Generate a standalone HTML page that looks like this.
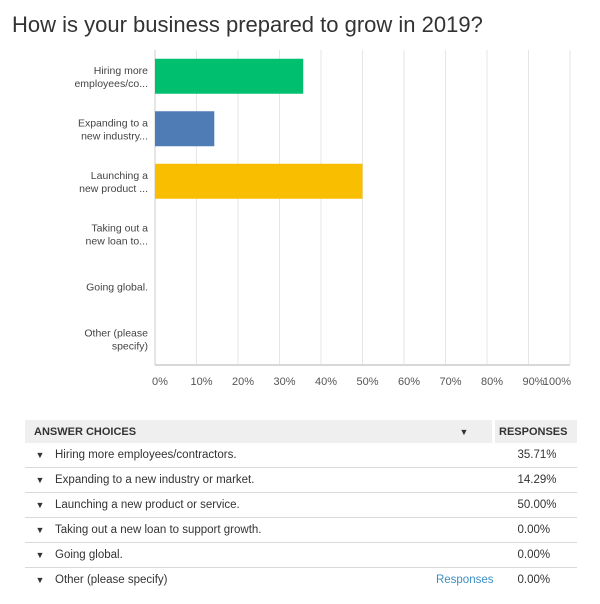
<!DOCTYPE html>
<html><head><meta charset="utf-8"><style>
body{margin:0;width:600px;height:604px;background:#fff;font-family:"Liberation Sans",sans-serif;position:relative;overflow:hidden}
.t{position:absolute}
#title{left:12px;top:12px;font-size:22px;color:#333;font-weight:normal}
table{position:absolute;left:25px;top:420px;width:552px;border-collapse:collapse;font-size:11.5px;color:#333}
td,th{height:24px;padding:0;text-align:left}
th{background:#efefef;font-weight:bold;height:23px;font-size:11px}
tr.r td{border-bottom:1px solid #d9d9d9}
.arr{width:30px;text-align:center;font-size:9px}
</style></head><body>
<div id="title" class="t">How is your business prepared to grow in 2019?</div>
<svg id="chart" width="600" height="400" style="position:absolute;left:0;top:0"></svg>
<table>
<tr><th style="padding-left:9px">ANSWER CHOICES</th><th style="width:30px;text-align:center;font-size:9px;border-right:3px solid #fff">▼</th><th style="width:78px;padding-left:4px">RESPONSES</th></tr>
<tbody id="tb"></tbody>
</table>
<script>
const categories=["Hiring more employees/co...","Expanding to a new industry...","Launching a new product ...","Taking out a new loan to...","Going global.","Other (please specify)"];
const labelLines=[["Hiring more","employees/co..."],["Expanding to a","new industry..."],["Launching a","new product ..."],["Taking out a","new loan to..."],["Going global."],["Other (please","specify)"]];
const values=[35.71,14.29,50.00,0,0,0];
const fullNames=["Hiring more employees/contractors.","Expanding to a new industry or market.","Launching a new product or service.","Taking out a new loan to support growth.","Going global.","Other (please specify)"];
const ticks=[0,10,20,30,40,50,60,70,80,90,100];
const colors=["#00bf6f","#507cb6","#f9be00","#6bc8cd","#ff8b4f","#7d5ba6"];
const NS="http://www.w3.org/2000/svg";
const svg=document.getElementById('chart');
const x0=155,x1=570,yTop=50,yBot=365;
const xs=v=>x0+(x1-x0)*v/100;
const band=(yBot-yTop)/categories.length;
const yc=i=>yTop+band*(i+0.5);
function mk(t,a){const e=document.createElementNS(NS,t);for(const k in a)e.setAttribute(k,a[k]);svg.appendChild(e);return e;}
ticks.forEach(t=>{
 const l=mk('line',{x1:xs(t),x2:xs(t),y1:yTop,y2:yBot,stroke:'#e6e6e6','stroke-width':1});
 
 
 const tx=mk('text',{x:t===100?xs(t)-13:xs(t)+5,y:385,'font-size':11,fill:'#555','text-anchor':'middle','font-family':'Liberation Sans'});
 tx.textContent=t+'%';
 
 
});
const ax=mk('line',{x1:x0,x2:x1,y1:yBot,y2:yBot,stroke:'#ccc','stroke-width':1.5});


mk('line',{x1:x0,x2:x0,y1:yTop,y2:yBot,stroke:'#ccc','stroke-width':1});
categories.forEach((c,i)=>{
 if(values[i]>0){
  const r=mk('rect',{x:x0,y:yc(i)-17.5,width:xs(values[i])-x0,height:35,fill:colors[i]});
  
  
 }
 const lines=labelLines[i];
 lines.forEach((ln,j)=>{
  const t=mk('text',{x:148,y:yc(i)+4+(j-(lines.length-1)/2)*13,'font-size':10.5,fill:'#444','text-anchor':'end','font-family':'Liberation Sans'});
  t.textContent=ln;
  
  
 });
});
const tb=document.getElementById('tb');
fullNames.forEach((n,i)=>{
 const tr=document.createElement('tr');
 if(i<fullNames.length-1)tr.className='r';
 
 
 tr.innerHTML='<td style="padding-left:0"><span style="display:inline-block;width:30px;text-align:center;font-size:9px">▼</span>'+n+'</td><td style="text-align:right;color:#3d8fc4;padding-right:0;white-space:nowrap">'+(i===5?'Responses':'')+'</td><td style="padding-left:24px">'+values[i].toFixed(2)+'%</td>';
 tb.appendChild(tr);
});
</script>
</body></html>
